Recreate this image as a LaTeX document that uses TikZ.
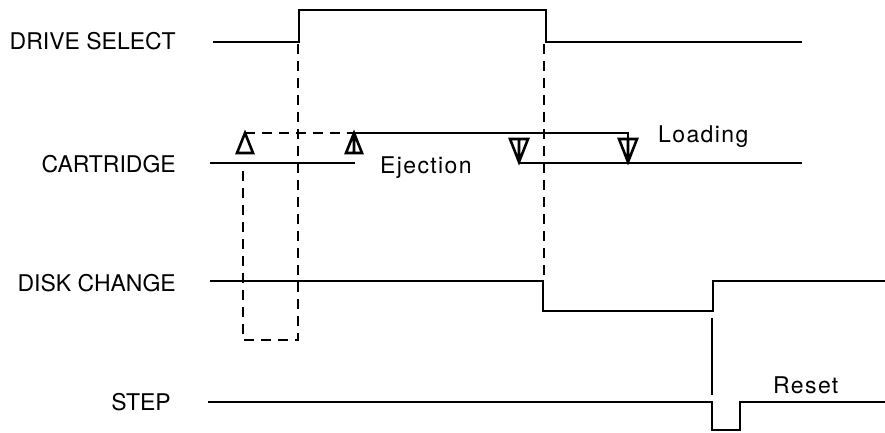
\documentclass[tikz,border=0pt]{standalone}
\usepackage{fontspec}
\setmainfont{TeX Gyre Heros}
\newfontfamily\evfont[LetterSpace=6]{TeX Gyre Heros}
\usetikzlibrary{positioning}

\begin{document}
\begin{tikzpicture}[x=1pt, y=-1pt, font=\fontsize{23}{26}\selectfont,
  sig/.style={line width=2.8pt, line join=miter},
  guide/.style={line width=2.5pt, dash pattern=on 10pt off 7pt},
  tri/.style={line width=2.6pt, line join=miter},
  signame/.style={anchor=base east, inner sep=0pt},
  event/.style={anchor=base west, inner sep=0pt, font=\evfont\fontsize{23}{26}\selectfont}]
\useasboundingbox (0,0) rectangle (885,432);
% signal names
\node[signame] (drivesel) at (176,49) {DRIVE SELECT};
\node[signame] (cartridge) at (176,172) {CARTRIDGE};
\node[signame] (diskchg) at (176,291) {DISK CHANGE};
\node[signame] (step) at (171,410) {STEP};
% event labels
\node[event] (eject) at (380,173) {Ejection};
\node[event] (load) at (658,142) {Loading};
\node[event] (reset) at (773,393) {Reset};
% drive select
\draw[sig] (213,42) -- (299,42) -- (299,10) -- (546,10) -- (546,42) -- (802,42);
% cartridge
\draw[sig] (210,163) -- (355,163);
\draw[sig] (519,163) -- (802,163);
\draw[guide] (245,133) -- (352,133);
\draw[sig] (352,133) -- (628,133) -- (628,139);
\draw[tri] (245,133) -- (237,153) -- (253,153) -- cycle;
\draw[tri] (354,133) -- (346,153) -- (362,153) -- cycle (354,133) -- (354,153);
\draw[tri] (510,139) -- (528,139) -- (519,162) -- cycle (519,139) -- (519,162);
\draw[tri] (619,139) -- (637,139) -- (628,162) -- cycle (628,139) -- (628,162);
% disk change
\draw[sig] (210,281) -- (543,281) -- (543,311) -- (713,311) -- (713,281) -- (885,281);
% step
\draw[sig] (208,402) -- (712,402) -- (712,430) -- (740,430) -- (740,402) -- (885,402);
\draw[sig] (712,318) -- (712,395);
% dashed guides
\draw[guide] (298,44) -- (298,340) -- (243,340) -- (243,163);
\draw[guide] (544,44) -- (544,281);
\end{tikzpicture}
\end{document}
